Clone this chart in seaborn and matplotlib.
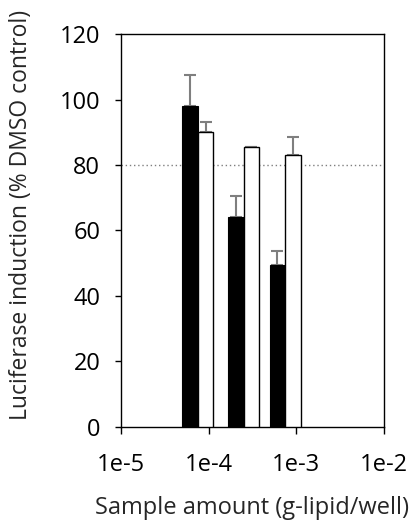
import numpy as np
import matplotlib
matplotlib.use('Agg')
import matplotlib.pyplot as plt
import seaborn as sns

sns.set_style('ticks')
plt.rcParams['font.family'] = ['Open Sans', 'DejaVu Sans']

# data
doses = [7.5e-5, 2.5e-4, 7.5e-4]
black_vals = [98.0, 64.0, 49.5]
black_err = [9.5, 6.6, 4.2]
white_vals = [90.0, 85.5, 83.1]
white_err = [3.1, 0.0, 5.5]
threshold = 80
xtick_labels = ['1e-5', '1e-4', '1e-3', '1e-2']

fig = plt.figure(figsize=(4.19, 5.25), dpi=100)
ax = fig.add_axes([0.289, 0.187, 0.627, 0.748])
ax.set_xscale('log')

w = 10 ** 0.18
d = np.array(doses)
# black bars sit left of the dose, white bars right of it (log widths)
ax.bar(d / w, black_vals, width=d - d / w, align='edge', color='black',
       edgecolor='black', linewidth=0.8, zorder=3)
ax.bar(d, white_vals, width=d * w - d, align='edge', color='white',
       edgecolor='black', linewidth=1.0, zorder=3)

ax.errorbar(d / np.sqrt(w), black_vals, yerr=[np.zeros(3), black_err], fmt='none',
            ecolor='#7f7f7f', elinewidth=1.5, capsize=4.5, capthick=1.5, zorder=2)
ax.errorbar(d * np.sqrt(w), white_vals, yerr=[np.zeros(3), white_err], fmt='none',
            ecolor='#7f7f7f', elinewidth=1.5, capsize=4.5, capthick=1.5, zorder=2)

ax.axhline(threshold, color='#7f7f7f', linestyle=(0, (1, 2)), linewidth=1.0, zorder=1)

ax.set_xlim(1e-5, 1e-2)
ax.set_ylim(0, 120)
ax.set_yticks(range(0, 121, 20))
ax.set_xticks([1e-5, 1e-4, 1e-3, 1e-2])
ax.set_xticklabels(xtick_labels)
ax.tick_params(axis='both', labelsize=17, colors='black')
ax.tick_params(axis='x', which='major', length=5, width=1, pad=14)
ax.tick_params(axis='x', which='minor', length=3, width=1)
ax.tick_params(axis='y', length=4, width=1, pad=11)

for s in ax.spines.values():
    s.set_linewidth(1.0)
    s.set_color('black')

ax.set_ylabel('Luciferase induction (% DMSO control)', fontsize=16.5)
ax.set_xlabel('Sample amount (g-lipid/well)', fontsize=17)
ax.yaxis.set_label_coords(-0.335, 0.54)
ax.xaxis.set_label_coords(0.5, -0.175)

fig.savefig('out.png', dpi=100)
